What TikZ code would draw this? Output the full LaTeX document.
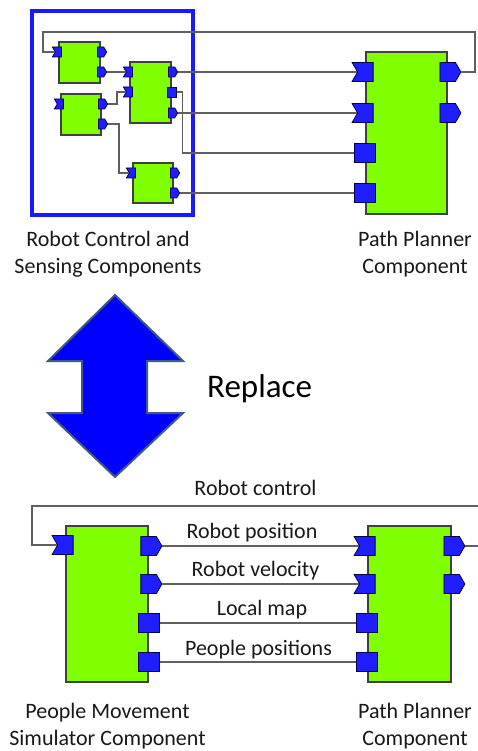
\documentclass[tikz,border=0pt]{standalone}
\usepackage{fontspec}
\setmainfont{Carlito}
\usetikzlibrary{shapes.symbols}

\definecolor{compgreen}{RGB}{128,255,0}
\definecolor{portblue}{RGB}{30,30,255}
\definecolor{frameblue}{RGB}{25,25,255}
\definecolor{arrowedge}{RGB}{64,90,130}
\definecolor{wiregray}{RGB}{95,95,95}

\tikzset{
  comp/.style={draw=black!75, fill=compgreen, line width=1.3pt, inner sep=0pt},
  port/.style={draw=black!70!blue, fill=portblue, line width=0.8pt, inner sep=0pt},
  inport/.style={port, signal, signal from=west, signal to=nowhere, signal pointer angle=120},
  outport/.style={port, signal, signal from=nowhere, signal to=east, signal pointer angle=120},
  svcport/.style={port, rectangle},
  small/.style={minimum width=9pt, minimum height=10pt},
  big/.style={minimum width=21pt, minimum height=19pt},
  wire/.style={draw=wiregray, line width=1.6pt},
  lbl/.style={font=\fontsize{22}{26.5}\selectfont, text=black!90, inner sep=0pt},
}

\begin{document}
\begin{tikzpicture}[x=1pt, y=-1pt]
  \useasboundingbox (0,0) rectangle (477,751);

  % ---------- top: robot control and sensing components ----------
  \draw[draw=frameblue, line width=3.5pt] (32,11) rectangle (193,215);

  \node[comp, minimum width=41pt, minimum height=41pt] (rc1) at (79.5,62.5) {};
  \node[comp, minimum width=40pt, minimum height=41pt] (rc2) at (81,114.5) {};
  \node[comp, minimum width=41pt, minimum height=61pt] (rc3) at (150.5,92.5) {};
  \node[comp, minimum width=40pt, minimum height=40pt] (rc4) at (153,183) {};

  \node[inport, small] (rc1i) at (rc1.west |- 0,52) {};
  \node[outport, small] (rc1o1) at (rc1.east |- 0,52) {};
  \node[outport, small] (rc1o2) at (rc1.east |- 0,72) {};

  \node[inport, small] (rc2i) at (rc2.west |- 0,104) {};
  \node[outport, small] (rc2o1) at (rc2.east |- 0,104) {};
  \node[outport, small] (rc2o2) at (rc2.east |- 0,124) {};

  \node[inport, small] (rc3i1) at (rc3.west |- 0,72) {};
  \node[inport, small] (rc3i2) at (rc3.west |- 0,92) {};
  \node[outport, small] (rc3o1) at (rc3.east |- 0,72) {};
  \node[svcport, small] (rc3s) at (rc3.east |- 0,92) {};
  \node[outport, small] (rc3o2) at (rc3.east |- 0,113) {};

  \node[inport, small] (rc4i) at (rc4.west |- 0,173) {};
  \node[outport, small] (rc4o1) at (rc4.east |- 0,173) {};
  \node[outport, small] (rc4o2) at (rc4.east |- 0,193) {};

  % path planner (top)
  \node[comp, minimum width=81pt, minimum height=162pt] (ppA) at (406.5,133) {};
  \node[inport, big] (ppAi1) at (ppA.west |- 0,72) {};
  \node[inport, big] (ppAi2) at (ppA.west |- 0,113) {};
  \node[svcport, big] (ppAs1) at (ppA.west |- 0,153) {};
  \node[svcport, big] (ppAs2) at (ppA.west |- 0,193) {};
  \node[outport, big] (ppAo1) at (ppA.east |- 0,72) {};
  \node[outport, big] (ppAo2) at (ppA.east |- 0,113) {};

  \draw[wire] (rc1o2) -- (rc3i1);
  \draw[wire] (rc2o1.east) -- ++(9,0) |- (rc3i2.west);
  \draw[wire] (rc2o2.east) -- ++(11,0) |- (rc4i.west);
  \draw[wire] (rc3o1) -- (ppAi1);
  \draw[wire] (rc3s.east) -- ++(6,0) |- (ppAs1.west);
  \draw[wire] (rc3o2) -- (ppAi2);
  \draw[wire] (rc4o2) -- (ppAs2);
  \draw[wire] (ppAo1.east) -| (475,32) -- (43,32) |- (rc1i.west);

  \node[lbl, align=center, anchor=base] (rclbl) at (108,273) {Robot Control and\\Sensing Components};
  \node[lbl, align=center, anchor=base] (ppAlbl) at (415,273) {Path Planner\\Component};

  % ---------- replace arrow ----------
  \filldraw[fill=blue, draw=arrowedge, line width=2pt]
    (115,295) -- (183,361) -- (147,361) -- (147,413) -- (183,413) -- (115,477)
    -- (48,413) -- (82,413) -- (82,361) -- (48,361) -- cycle;
  \node[font=\fontsize{33}{40}\selectfont, anchor=base west, inner sep=0pt] (repl) at (207,397) {Replace};

  % ---------- bottom: people movement simulator ----------
  \node[comp, minimum width=82pt, minimum height=156pt] (pms) at (107,604) {};
  \node[inport, big] (pmsi) at (pms.west |- 0,545) {};
  \node[outport, big] (pmso1) at (pms.east |- 0,546) {};
  \node[outport, big] (pmso2) at (pms.east |- 0,584) {};
  \node[svcport, big] (pmss1) at (pms.east |- 0,623) {};
  \node[svcport, big] (pmss2) at (pms.east |- 0,662) {};

  % path planner (bottom)
  \node[comp, minimum width=83pt, minimum height=156pt] (ppB) at (409.5,604) {};
  \node[inport, big] (ppBi1) at (ppB.west |- 0,546) {};
  \node[inport, big] (ppBi2) at (ppB.west |- 0,584) {};
  \node[svcport, big] (ppBs1) at (ppB.west |- 0,623) {};
  \node[svcport, big] (ppBs2) at (ppB.west |- 0,662) {};
  \node[outport, big] (ppBo1) at (ppB.east |- 0,546) {};
  \node[outport, big] (ppBo2) at (ppB.east |- 0,584) {};

  \draw[wire] (pmso1) -- (ppBi1);
  \draw[wire] (pmso2) -- (ppBi2);
  \draw[wire] (pmss1) -- (ppBs1);
  \draw[wire] (pmss2) -- (ppBs2);
  \draw[wire] (ppBo1.east) -- ++(20,0) |- (32,506) |- (pmsi.west);

  \node[lbl, anchor=base] (lctrl) at (255.5,495) {Robot control};
  \node[lbl, anchor=base] (lpos) at (252,538) {Robot position};
  \node[lbl, anchor=base] (lvel) at (255.5,576) {Robot velocity};
  \node[lbl, anchor=base] (lmap) at (262,615) {Local map};
  \node[lbl, anchor=base] (lppl) at (258.5,655) {People positions};

  \node[lbl, align=center, anchor=base] (pmslbl) at (107.5,745) {People Movement\\Simulator Component};
  \node[lbl, align=center, anchor=base] (ppBlbl) at (415,745) {Path Planner\\Component};
\end{tikzpicture}
\end{document}
